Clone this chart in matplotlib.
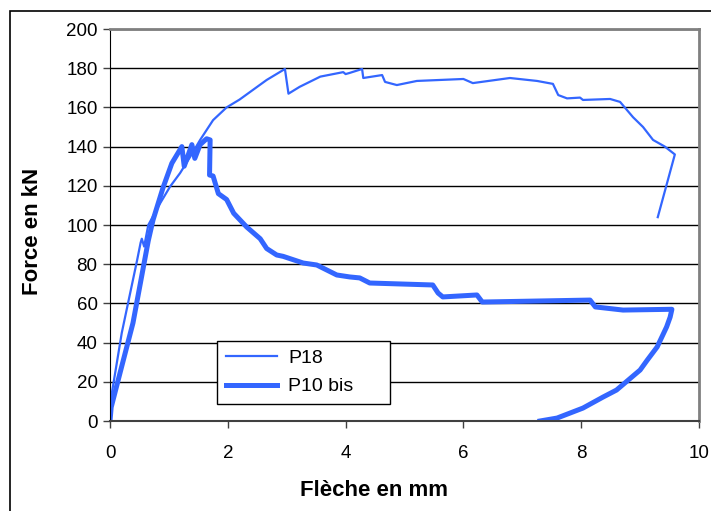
import matplotlib.pyplot as plt
from matplotlib.patches import Rectangle

plt.rcParams.update({
    "font.family": ["Liberation Sans", "DejaVu Sans"],
    "font.size": 13.5,
})

# P18 (thin line)
p18_x = [0, 0.03, 0.2, 0.46, 0.52, 0.54, 0.58, 0.65, 0.85, 1.02, 1.19, 1.36, 1.53,
         1.75, 1.98, 2.2, 2.66, 2.97, 3.03, 3.22, 3.57, 3.96, 4.0, 4.07, 4.28, 4.3,
         4.62, 4.67, 4.87, 5.21, 6.0, 6.16, 6.79, 7.25, 7.52, 7.61, 7.76, 7.98, 8.03,
         8.49, 8.66, 8.88, 9.05, 9.22, 9.42, 9.59, 9.3]
p18_y = [0, 14, 45, 82, 91, 93, 89, 100, 111, 119.6, 126.5, 134.7, 143.4,
         153.5, 160, 164, 174, 179.6, 167, 170.5, 175.7, 178, 177, 177.6, 179.6, 175,
         176.5, 173, 171.4, 173.5, 174.5, 172.4, 175, 173.5, 172, 166.3, 164.6, 165, 163.8,
         164.3, 162.8, 155, 150, 143.4, 140, 136, 104]

# P10 bis (thick line)
p10_x = [0, 0.02, 0.17, 0.39, 0.65, 0.73, 0.9, 1.05, 1.22, 1.26, 1.39, 1.44, 1.53,
         1.64, 1.7, 1.69, 1.75, 1.84, 1.98, 2.1, 2.32, 2.55, 2.66, 2.83, 2.94, 3.28,
         3.51, 3.85, 4.07, 4.24, 4.41, 5.48, 5.57, 5.65, 6.23, 6.32, 8.15, 8.24, 8.71,
         9.54, 9.51, 9.45, 9.29, 9.12, 9.0, 8.6, 8.37, 8.03, 7.59, 7.3]
p10_y = [0, 7, 24.5, 50, 92, 102.5, 119, 131.5, 140, 130, 141, 134, 141,
         144, 143.4, 125.5, 125, 116, 113, 106, 99, 93, 88, 84.7, 84, 80.6,
         79.6, 74.5, 73.5, 73, 70.4, 69.4, 65.3, 63.3, 64.3, 60.7, 61.7, 58.2, 56.6,
         57, 53, 48, 37.8, 31, 26, 15.8, 12.2, 6.6, 1.5, 0]

blue = "#3366ff"

fig = plt.figure(figsize=(7.11, 5.11), dpi=100)
ax = fig.add_axes([110 / 711, 90 / 511, 589 / 711, 392 / 511])

# chart area frame
fig.patches.append(Rectangle((10 / 711, -0.1), 1.2, 1.1 - 11 / 511,
                             transform=fig.transFigure, fill=False,
                             edgecolor="black", linewidth=1.2))

ax.plot(p18_x, p18_y, color=blue, linewidth=1.6, label="P18")
ax.plot(p10_x, p10_y, color=blue, linewidth=3.6, label="P10 bis")

ax.set_xlim(0, 10)
ax.set_ylim(0, 200)
ax.set_xticks(range(0, 11, 2))
ax.set_yticks(range(0, 201, 20))
ax.yaxis.grid(True, color="black", linewidth=1)
ax.set_axisbelow(True)
ax.tick_params(direction="out", length=5, width=1, labelsize=13.5, color="#404040")
ax.tick_params(axis="x", pad=12)
ax.tick_params(axis="y", pad=4)

for side in ["top", "right"]:
    ax.spines[side].set_color("#808080")
    ax.spines[side].set_linewidth(2)
ax.spines["left"].set_color("black")
ax.spines["bottom"].set_color("#404040")
ax.spines["bottom"].set_linewidth(1.5)

fig.text(374 / 711, 1 - 490 / 511, "Flèche en mm", ha="center", va="center",
         fontsize=16, fontweight="bold")
fig.text(33 / 711, 1 - 231 / 511, "Force en kN", ha="center", va="center",
         rotation=90, fontsize=16, fontweight="bold")

leg = ax.legend(loc="lower left", bbox_to_anchor=(0.182, 0.043, 0.293, 0.171),
                mode="expand", borderaxespad=0, fancybox=False, framealpha=1,
                edgecolor="black", prop={"size": 14}, handlelength=2.6,
                handletextpad=0.6, borderpad=0.45, labelspacing=0.55)
leg.get_frame().set_linewidth(1)

fig.savefig("out.png", dpi=100)
